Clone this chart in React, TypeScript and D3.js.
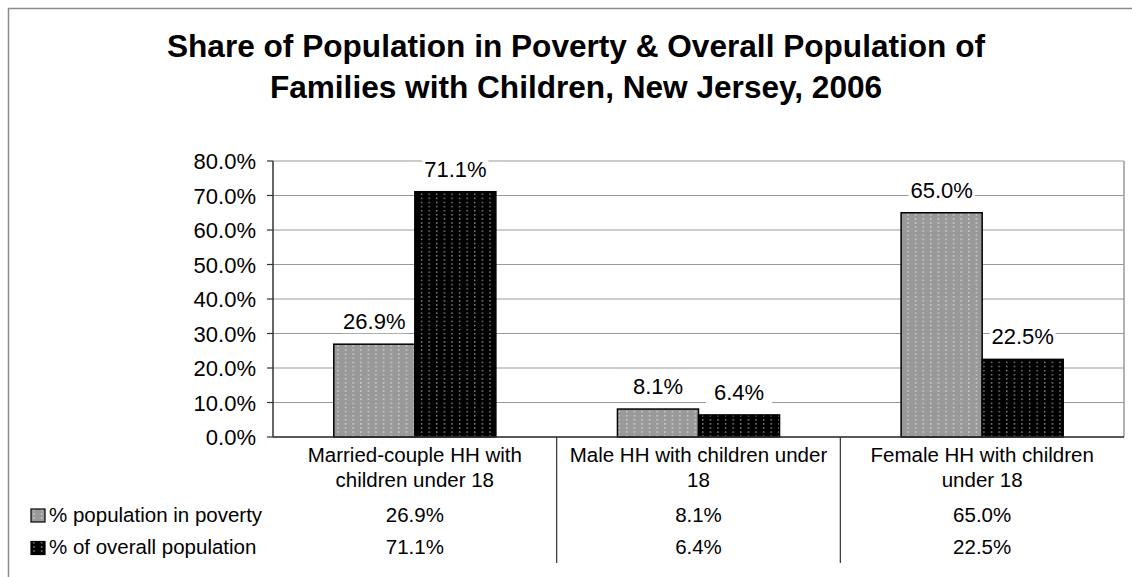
import React from "react";
import * as d3 from "d3";

const categories = [
  ["Married-couple HH with", "children under 18"],
  ["Male HH with children under", "18"],
  ["Female HH with children", "under 18"],
];
const seriesNames = ["% population in poverty", "% of overall population"];
const povertyValues = [0.269, 0.081, 0.65];
const overallValues = [0.711, 0.064, 0.225];
const yTicks = [0, 0.1, 0.2, 0.3, 0.4, 0.5, 0.6, 0.7, 0.8];
const titleLines = [
  "Share of Population in Poverty & Overall Population of",
  "Families with Children, New Jersey, 2006",
];

const FONT = "'Liberation Sans', Arial, Helvetica, sans-serif";

export default function App() {
  const W = 1132, H = 577;
  const left = 273, right = 1124, top = 161, bottom = 437;
  const x = d3.scaleBand<number>().domain([0, 1, 2]).range([left, right]).paddingInner(0).paddingOuter(0);
  const inner = d3.scaleBand<number>().domain([0, 1]).range([0, x.bandwidth()]).paddingInner(0).paddingOuter(0.75);
  const y = d3.scaleLinear().domain([0, 0.8]).range([bottom, top]);
  const series = [povertyValues, overallValues];
  const fills = ["url(#patGray)", "url(#patBlack)"];
  const fmt = d3.format(".1%");

  return (
    <div style={{ position: "absolute", left: 0, top: 0 }}>
      <svg width={W} height={H} style={{ display: "block", fontFamily: FONT }}>
        <defs>
          <pattern id="patGray" width="7.6" height="4.1" patternUnits="userSpaceOnUse">
            <rect width="7.6" height="4.1" fill="#999999" />
            <rect x="3" y="1" width="1.2" height="1.2" fill="#ececec" />
          </pattern>
          <pattern id="patBlack" width="7.6" height="4.1" patternUnits="userSpaceOnUse">
            <rect width="7.6" height="4.1" fill="#000000" />
            <rect x="3" y="1" width="1.2" height="1.2" fill="#c8c8c8" />
          </pattern>
        </defs>
        <rect x={0} y={0} width={W} height={H} fill="#fff" />
        <rect x={8.5} y={8.5} width={W + 20} height={H + 20} fill="none" stroke="#8c8c8c" strokeWidth={1.5} />
        {titleLines.map((t, i) => (
          <text key={i} x={576} y={57 + i * 41} textAnchor="middle" fontSize={31.6} fontWeight="bold" fill="#000">
            {t}
          </text>
        ))}
        {/* gridlines */}
        {yTicks.map((t) => (
          <line key={t} x1={left} x2={right} y1={y(t)} y2={y(t)} stroke="#999" strokeWidth={1.2} />
        ))}
        <line x1={right} x2={right} y1={top} y2={bottom} stroke="#999" strokeWidth={1.5} />
        {/* bars */}
        {series.map((vals, s) =>
          vals.map((v, c) => (
            <rect
              key={`${s}-${c}`}
              x={(x(c) as number) + (inner(s) as number)}
              y={y(v)}
              width={inner.bandwidth()}
              height={bottom - y(v)}
              fill={fills[s]}
              stroke="#000"
              strokeWidth={1.5}
            />
          ))
        )}
        {/* data labels */}
        {series.map((vals, s) =>
          vals.map((v, c) => {
            const cx = (x(c) as number) + (inner(s) as number) + inner.bandwidth() / 2;
            const base = y(v) - 15;
            return (
              <g key={`l${s}-${c}`}>
                <rect x={cx - 33} y={base - 18} width={66} height={22} fill="#fff" />
                <text x={cx} y={base} textAnchor="middle" fontSize={22} fill="#000">
                  {fmt(v)}
                </text>
              </g>
            );
          })
        )}
        {/* axes */}
        <line x1={left} x2={left} y1={top} y2={bottom} stroke="#333" strokeWidth={1.5} />
        <line x1={left} x2={right} y1={bottom} y2={bottom} stroke="#333" strokeWidth={1.5} />
        {yTicks.map((t) => (
          <g key={`t${t}`}>
            <line x1={left - 6} x2={left} y1={y(t)} y2={y(t)} stroke="#333" strokeWidth={1.2} />
            <text x={256} y={y(t) + 8} textAnchor="end" fontSize={22} fill="#000">
              {fmt(t)}
            </text>
          </g>
        ))}
        {/* table */}
        {[1, 2].map((c) => (
          <line key={`v${c}`} x1={x(c) as number} x2={x(c) as number} y1={bottom} y2={563} stroke="#333" strokeWidth={1.2} />
        ))}
        {categories.map((lines, c) => {
          const cx = (x(c) as number) + x.bandwidth() / 2;
          return (
            <g key={`c${c}`}>
              {lines.map((ln, i) => (
                <text key={i} x={cx} y={462 + i * 24.5} textAnchor="middle" fontSize={20.5} fill="#000">
                  {ln}
                </text>
              ))}
              {series.map((vals, s) => (
                <text key={`v${s}`} x={cx} y={522 + s * 31.5} textAnchor="middle" fontSize={20.5} fill="#000">
                  {fmt(vals[c])}
                </text>
              ))}
            </g>
          );
        })}
        {seriesNames.map((n, s) => (
          <g key={`lg${s}`}>
            <rect x={31} y={509 + s * 32.5} width={14} height={13} fill={fills[s]} stroke="#000" strokeWidth={1.2} />
            <text x={49} y={522 + s * 31.5} fontSize={20.5} fill="#000">
              {n}
            </text>
          </g>
        ))}
      </svg>
    </div>
  );
}
